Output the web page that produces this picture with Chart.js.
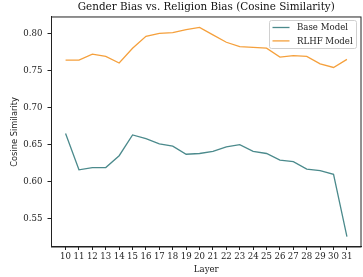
<!DOCTYPE html>
<html>
<head>
<meta charset="utf-8">
<script src="https://cdn.jsdelivr.net/npm/chart.js@4.4.1/dist/chart.umd.min.js"></script>
<style>
  html, body { margin: 0; padding: 0; background: #fff; }
  #wrap { width: 363px; height: 277px; }
</style>
</head>
<body>
<div id="wrap"><canvas id="chart" width="363" height="277"></canvas></div>
<script>
// layers on the x axis
const layers = [10, 11, 12, 13, 14, 15, 16, 17, 18, 19, 20, 21, 22, 23, 24, 25, 26, 27, 28, 29, 30, 31];
// cosine similarity per layer
const baseModel = [0.665, 0.616, 0.619, 0.619, 0.635, 0.663, 0.658, 0.651, 0.648, 0.637, 0.638, 0.641, 0.647, 0.650, 0.641, 0.638, 0.629, 0.627, 0.617, 0.615, 0.610, 0.526];
const rlhfModel = [0.764, 0.764, 0.772, 0.769, 0.760, 0.780, 0.796, 0.800, 0.801, 0.805, 0.808, 0.798, 0.788, 0.782, 0.781, 0.780, 0.768, 0.770, 0.769, 0.759, 0.754, 0.765];
const yTicks = [0.55, 0.60, 0.65, 0.70, 0.75, 0.80];

const serif = "'DejaVu Serif', serif";
const baseColor = '#4b8a8c';
const rlhfColor = '#f5a03c';

const toPoints = arr => arr.map((v, i) => ({ x: layers[i], y: v }));

// black frame round the plot + legend box in the upper right
const framePlugin = {
  id: 'frame',
  afterDraw(chart) {
    const { ctx, chartArea: a } = chart;
    ctx.save();
    ctx.strokeStyle = '#222';
    ctx.lineWidth = 1;
    ctx.strokeRect(a.left, a.top, a.right - a.left, a.bottom - a.top);

    // legend
    const bx = 269.5, by = 20.5, bw = 87, bh = 28;
    ctx.fillStyle = 'rgba(255,255,255,0.85)';
    ctx.strokeStyle = '#d0d0d0';
    ctx.beginPath();
    ctx.roundRect(bx, by, bw, bh, 2);
    ctx.fill();
    ctx.stroke();
    ctx.font = '8.6px ' + serif;
    ctx.textBaseline = 'middle';
    ctx.lineWidth = 1.3;
    chart.data.datasets.forEach((ds, i) => {
      const y = by + 7 + i * 13.4;
      ctx.strokeStyle = ds.borderColor;
      ctx.beginPath();
      ctx.moveTo(bx + 3, y);
      ctx.lineTo(bx + 20, y);
      ctx.stroke();
      ctx.fillStyle = '#222';
      ctx.fillText(ds.label, bx + 27.5, y + 0.5);
    });
    ctx.restore();
  }
};

new Chart(document.getElementById('chart'), {
  type: 'line',
  data: {
    datasets: [
      { label: 'Base Model', data: toPoints(baseModel), borderColor: baseColor, borderWidth: 1.3, pointRadius: 0, tension: 0 },
      { label: 'RLHF Model', data: toPoints(rlhfModel), borderColor: rlhfColor, borderWidth: 1.3, pointRadius: 0, tension: 0 }
    ]
  },
  options: {
    responsive: false,
    animation: false,
    layout: { padding: { left: 0, right: 2, top: 0, bottom: 0 } },
    plugins: {
      legend: { display: false },
      tooltip: { enabled: false },
      title: {
        display: true,
        fullSize: false,
        text: 'Gender Bias vs. Religion Bias (Cosine Similarity)',
        color: '#111',
        font: { family: serif, size: 10.4, weight: 'normal' },
        padding: { top: 1, bottom: 3.5 }
      }
    },
    scales: {
      x: {
        type: 'linear',
        min: 8.95,
        max: 32.05,
        afterBuildTicks: s => { s.ticks = layers.map(v => ({ value: v })); },
        afterFit: s => { s.height = 30; },
        grid: { drawOnChartArea: false, tickLength: 3, color: '#222' },
        border: { color: '#222' },
        ticks: { color: '#222', font: { family: serif, size: 8.6 }, padding: 2, maxRotation: 0, autoSkip: false },
        title: { display: true, text: 'Layer', color: '#222', font: { family: serif, size: 8.6 }, padding: { top: 0, bottom: 2 } }
      },
      y: {
        min: 0.5119,
        max: 0.8221,
        afterBuildTicks: s => { s.ticks = yTicks.map(v => ({ value: v })); },
        afterFit: s => { s.width = 51.5; },
        grid: { drawOnChartArea: false, tickLength: 4, color: '#222' },
        border: { color: '#222' },
        ticks: { color: '#222', font: { family: serif, size: 8.6 }, padding: 5, callback: v => v.toFixed(2) },
        title: { display: true, text: 'Cosine Similarity', color: '#222', font: { family: "'DejaVu Sans', sans-serif", size: 8.3 }, padding: { top: 10, bottom: 0 } }
      }
    }
  },
  plugins: [framePlugin]
});
</script>
</body>
</html>
